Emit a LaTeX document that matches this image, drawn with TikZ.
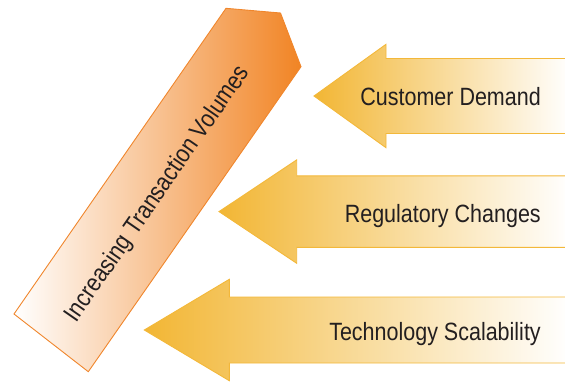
\documentclass[tikz,border=0pt]{standalone}
\usepackage{fontspec}
\setmainfont{Liberation Sans}[FakeStretch=0.86]
\definecolor{gold}{RGB}{242,182,52}
\definecolor{goldline}{RGB}{243,184,58}
\definecolor{orangeR}{RGB}{241,132,36}
\definecolor{orangeline}{RGB}{240,134,44}
\definecolor{txt}{RGB}{35,31,32}
\tikzset{
  bigarrow/.style={left color=white, right color=orangeR, draw=orangeline, line width=0.9pt, line join=miter},
  pusharrow/.style={left color=gold, right color=white},
  pushline/.style={draw=goldline, line width=0.9pt, line join=miter},
  label/.style={text=txt, font=\fontsize{25}{30}\selectfont, inner sep=0pt}
}
\begin{document}
\begin{tikzpicture}[x=1pt,y=-1pt]
\useasboundingbox (0,0) rectangle (565,381);
% orange rising arrow
\path[bigarrow] (14,314) coordinate (bl) -- (226,8.3) coordinate (tl) -- (280.5,13) coordinate (apex) -- (301,66.7) coordinate (tr) -- (88.3,371.7) coordinate (br) -- cycle;
\node[label, rotate=55.3, anchor=base] (vol) at (163.1,197.8) {Increasing Transaction Volumes};
% push arrows
\foreach \n/\tip/\base/\cy/\h/\s in {a/314/386/96/51.7/37.5, b/219/296.7/211.6/51.7/35.7, c/144.3/229.3/330/50.7/33}{
  \path[pusharrow] (570,\cy-\s) -- (\base,\cy-\s) -- (\base,\cy-\h) -- (\tip,\cy) coordinate (tip\n) -- (\base,\cy+\h) -- (\base,\cy+\s) -- (570,\cy+\s) -- cycle;
  \draw[pushline] (570,\cy-\s) -- (\base,\cy-\s) -- (\base,\cy-\h) -- (tip\n) -- (\base,\cy+\h) -- (\base,\cy+\s) -- (570,\cy+\s);
}
\node[label, anchor=base east] (cust) at (541,105) {Customer Demand};
\node[label, anchor=base east] (reg) at (541,222.3) {Regulatory Changes};
\node[label, anchor=base east] (tech) at (541,340.7) {Technology Scalability};
\end{tikzpicture}
\end{document}
